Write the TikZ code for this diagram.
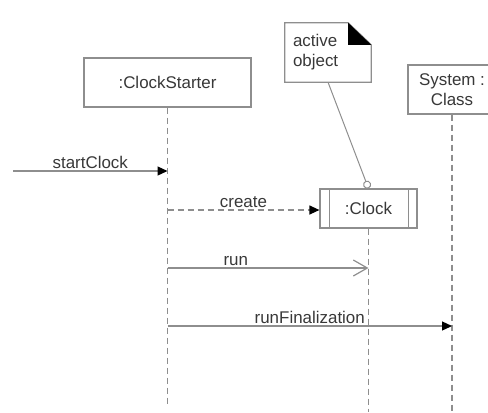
\documentclass[tikz,border=0pt]{standalone}
\usepackage{fontspec}
\setmainfont{Liberation Sans}
\usetikzlibrary{arrows.meta,calc}
\definecolor{ln}{HTML}{8E8E8E}
\definecolor{txt}{HTML}{383838}
\tikzset{
  obj/.style={draw=ln, line width=1.2bp, fill=white, font=\fontsize{17}{20}\selectfont,
    text=txt, align=center, inner sep=0pt, minimum height=49bp},
  notebox/.style={font=\fontsize{17}{20}\selectfont, text=txt, align=left,
    text width=70bp, inner xsep=8bp, inner ysep=0pt, minimum height=59bp},
  life/.style={draw=ln, line width=1.5bp, dash pattern=on 6bp off 4bp},
  call/.style={draw=ln, line width=1.2bp, -{Triangle[length=10bp, width=9bp, black]}},
  create/.style={call, dash pattern=on 6bp off 4bp},
  async/.style={draw=ln, line width=1.2bp, -{Straight Barb[length=14bp, width=16bp]}},
  msg/.style={font=\fontsize{17}{20}\selectfont, text=txt, inner sep=0pt, above=2bp},
}

\begin{document}
\begin{tikzpicture}[x=1bp, y=-1bp]
\useasboundingbox (0,0) rectangle (488,412);
\clip (0,0) rectangle (488,412);

% the objects
\node[obj, minimum width=167bp] (starter) at (167.5,82.5) {:ClockStarter};
\node[obj, minimum width=88bp] (sys) at (452,89.5) {System :\\Class};
\node[obj, minimum width=97bp, minimum height=39bp] (clock) at (368.5,208.5) {:Clock};
\draw[ln, line width=1.2bp] ($(clock.north west)+(10,0)$) -- ($(clock.south west)+(10,0)$);
\draw[ln, line width=1.2bp] ($(clock.north east)+(-9,0)$) -- ($(clock.south east)+(-9,0)$);

% lifelines
\coordinate (starterend) at (starter.south |- 0,404);
\coordinate (clockend) at (clock.south |- 0,412);
\coordinate (sysend) at (sys.south |- 0,412);
\draw[life] (starter.south) -- (starterend);
\draw[life] (clock.south) -- (clockend);
\draw[life] (sys.south) -- (sysend);

% note on the active object
\node[notebox] (note) at (328,52.5) {active\\object};
\draw[ln, line width=1.2bp] (note.north west) -- ($(note.north east)+(-23,0)$)
  -- ($(note.north east)+(0,22)$) -- (note.south east) -- (note.south west) -- cycle;
\fill ($(note.north east)+(-23,0)$) -- ($(note.north east)+(-23,22)$)
  -- ($(note.north east)+(0,22)$) -- cycle;
\draw[ln, line width=1bp, -{Circle[open, length=8bp, width=8bp]}] (note.south) -- (clock.north);

% messages
\coordinate (entry) at (13,171);
\coordinate (m1) at (starter.south |- entry);
\coordinate (m2) at (starter.south |- 0,210);
\coordinate (m3) at (starter.south |- 0,268);
\coordinate (m3end) at (clock.south |- m3);
\coordinate (m4) at (starter.south |- 0,326);
\coordinate (m4end) at (sys.south |- m4);
\draw[call] (entry) -- (m1) node[msg, midway] {startClock};
\draw[create] (m2) -- (m2 -| clock.west) node[msg, midway] {create};
\draw[async] (m3) -- (m3end) node[msg, pos=0.34] {run};
\draw[call] (m4) -- (m4end) node[msg, midway] {runFinalization};

\end{tikzpicture}
\end{document}
